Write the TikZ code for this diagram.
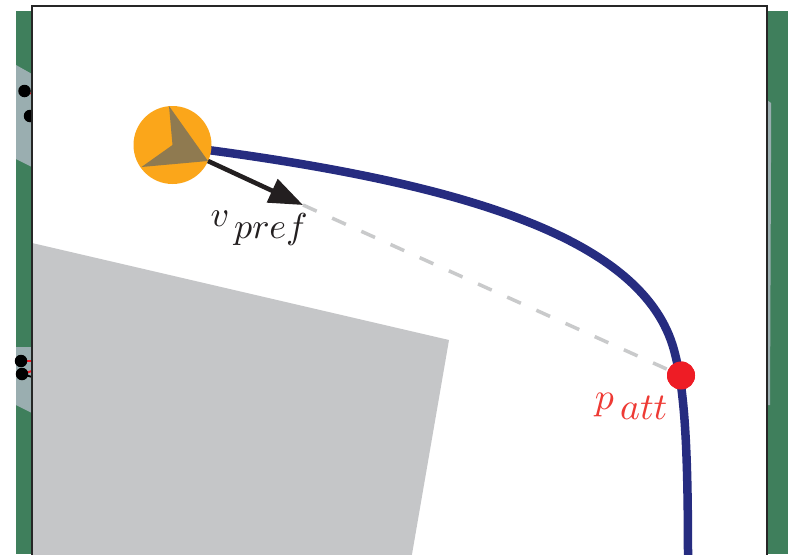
\documentclass[tikz,border=0pt]{standalone}
\usetikzlibrary{arrows.meta}
\definecolor{fieldgreen}{HTML}{3F7F5C}
\definecolor{wedge}{HTML}{9AAEB0}
\definecolor{obst}{HTML}{C5C6C8}
\definecolor{orangeA}{HTML}{FBA61A}
\definecolor{brownA}{HTML}{8F7A50}
\definecolor{navy}{HTML}{262C80}
\definecolor{redP}{HTML}{EE1C25}
\definecolor{labred}{HTML}{EE3A34}
\definecolor{dashgray}{HTML}{C9CACB}
\definecolor{arrowk}{HTML}{231F20}
\tikzset{
  blackdot/.style={circle,fill=black,inner sep=0pt,minimum size=12.5pt},
  lab/.style={inner sep=0pt,scale=3.6},
}
\begin{document}
\begin{tikzpicture}[x=1pt,y=-1pt,line join=miter]
\useasboundingbox (0,0) rectangle (792,554);
\path[clip] (0,0) rectangle (792,554);
% background field
\fill[fieldgreen] (16,11) rectangle (788,554);
\fill[wedge] (16,65) -- (32,74) -- (32,167) -- (16,159) -- cycle;
\fill[wedge] (16,347) -- (32,347) -- (32,413) -- (16,405) -- cycle;
\fill[wedge] (767,100) -- (771,103) -- (771,160) -- (770,405) -- (767,405) -- cycle;
\coordinate (s1) at (24.5,91); \coordinate (s2) at (30,116);
\coordinate (s3) at (21,361); \coordinate (s4) at (22,374);
\coordinate (e1) at (32,94); \coordinate (e3) at (32,361); \coordinate (e4) at (32,371); \coordinate (e5) at (32,377);
\draw[redP,line width=1.5pt] (s1) -- (e1);
\draw[redP,line width=2pt] (s3) -- (e3);
\draw[redP,line width=2pt] (s4) -- (e4);
\draw[black,line width=1.8pt] (s4) -- (e5);
\node[blackdot] at (s1) {};
\node[blackdot] at (s2) {};
\node[blackdot] at (s3) {};
\node[blackdot] at (s4) {};
% frame
\fill[white] (32,6) rectangle (767,560);
\fill[obst] (32,243) -- (449,340) -- (411,560) -- (32,560) -- cycle;
\draw[black!85,line width=1.4pt] (32,560) -- (32,6) -- (767,6) -- (767,560);
% dashed
\coordinate (tip) at (303,205);
\node[circle,fill=redP,inner sep=0pt,minimum size=28pt] (patt) at (681,375.5) {};
\draw[dashgray,line width=3.5pt,dash pattern=on 15pt off 17pt] (tip) -- (patt.center);
% path
\coordinate (pathstart) at (208,150);
\coordinate (pathend) at (688,560);
\draw[navy,line width=8.5pt] (pathstart) .. controls (470,185) and (644,240) .. (674,350) .. controls (685,390) and (688,450) .. (pathend);
\node[circle,fill=redP,inner sep=0pt,minimum size=28pt] at (patt.center) {};
% agent
\node[circle,fill=orangeA,inner sep=0pt,minimum size=78pt] (agent) at (172.5,145) {};
\fill[brownA] (169,106) -- (172.5,145) -- (141.5,167) -- (208,161) -- cycle;
\draw[arrowk,line width=4.6pt,-{Triangle[length=34pt,width=25pt]}] (208,161) -- (tip);
% labels
\node[lab,arrowk,anchor=base west] (vp) at (210,226) {$v_{\textstyle \,pref}$};
\node[lab,labred,anchor=base west,scale=1.05] (pa) at (594,409) {$p_{\textstyle \,att}$};
\end{tikzpicture}
\end{document}
